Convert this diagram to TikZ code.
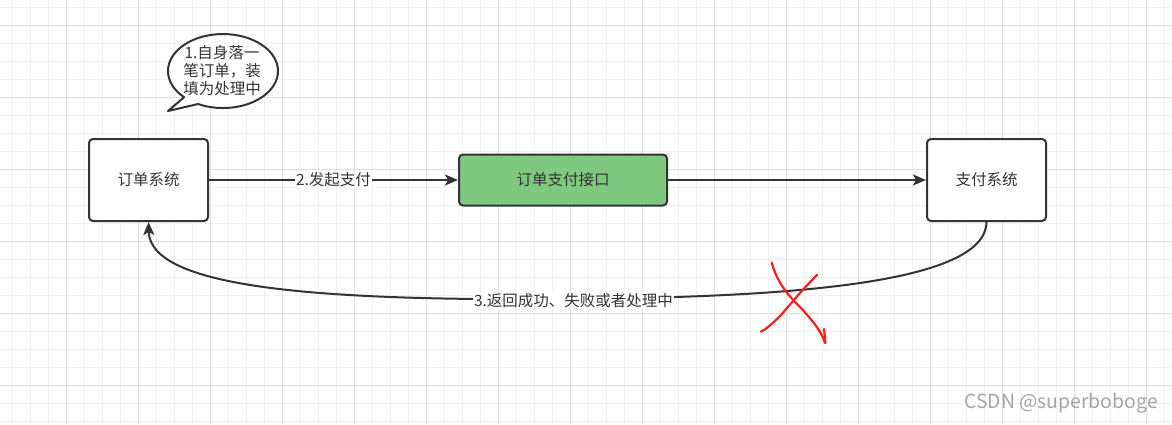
\documentclass[tikz,border=0pt]{standalone}
\usepackage{fontspec}
\setmainfont{Noto Sans CJK SC}
\usetikzlibrary{arrows.meta}
\definecolor{ink}{RGB}{51,51,51}
\definecolor{gridminor}{RGB}{240,240,240}
\definecolor{gridmajor}{RGB}{222,222,222}
\definecolor{boxgreen}{RGB}{126,200,128}
\definecolor{xred}{RGB}{250,30,30}
\definecolor{wm}{RGB}{165,165,165}
\begin{document}
\begin{tikzpicture}[x=1pt,y=-1pt,
  box/.style={draw=ink, line width=2pt, rounded corners=4pt, inner sep=0pt, font=\fontsize{15.5}{18}\selectfont, text=ink},
  conn/.style={draw=ink, line width=2pt, -{Stealth[length=13pt,width=11pt,inset=3pt]}},
  lbl/.style={fill=white, inner sep=1pt, font=\fontsize{15.5}{18}\selectfont, text=ink},
  redstroke/.style={draw=xred, line width=2.2pt, line cap=round, line join=round}]
\useasboundingbox (0,0) rectangle (1172,424);
\fill[white] (0,0) rectangle (1172,424);
% grid
\foreach \i in {0,...,64} \draw[gridminor, line width=1pt] ({12.7+18*\i},0) -- ({12.7+18*\i},424);
\foreach \j in {0,...,23} \draw[gridminor, line width=1pt] (0,{7.3+18*\j}) -- (1172,{7.3+18*\j});
\foreach \i in {0,...,15} \draw[gridmajor, line width=1pt] ({66.7+72*\i},0) -- ({66.7+72*\i},424);
\foreach \j in {0,...,5} \draw[gridmajor, line width=1pt] (0,{25.3+72*\j}) -- (1172,{25.3+72*\j});
% nodes
\node[box, fill=white, minimum width=119pt, minimum height=82pt] (os) at (148.5,180) {订单系统};
\node[box, fill=boxgreen, minimum width=208pt, minimum height=51pt] (api) at (563,180) {订单支付接口};
\node[box, fill=white, minimum width=119pt, minimum height=82pt] (pay) at (986.5,180) {支付系统};
% connectors
\draw[conn] (os.east) -- node[lbl] (l2) {2.发起支付} (api.west);
\draw[conn] (api.east) -- (pay.west);
\coordinate (m) at (575,299);
\draw[conn] (pay.south) .. controls (986,285) and (780,297) .. (m) .. controls (330,301) and (150,290) .. (os.south);
\node[lbl] (l3) at (573.5,301) {3.返回成功、失败或者处理中};
% callout
\draw[ink, line width=2pt, fill=white, line join=round] (168,111) -- (184.1,97.2) arc[start angle=135, end angle=477, x radius=55, y radius=37] -- cycle;
\node[align=center, text=ink, font=\fontsize{15.5}{18}\selectfont, inner sep=0pt] (note) at (222,71) {1.自身落一\\笔订单，装\\填为处理中};
% red cross
\draw[redstroke] (771.7,262.7) .. controls (778,285) and (790,297) .. (800,307) .. controls (812,320) and (822,332) .. (825,343);
\draw[redstroke] (824,329) -- (825.5,343);
\draw[redstroke] (817,275) .. controls (800,292) and (790,305) .. (780,316) .. controls (772,324) and (765,330) .. (760.7,331.7);
% watermark
\node[text=wm, font=\fontsize{19.4}{21}\selectfont, inner sep=0pt] (wmk) at (1061,403) {CSDN @superboboge};
\end{tikzpicture}
\end{document}
